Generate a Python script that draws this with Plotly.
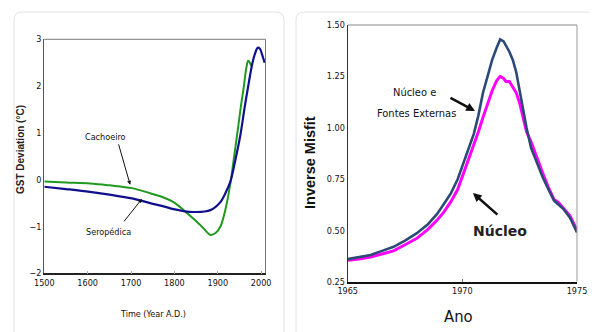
import plotly.graph_objects as go

W, H = 597, 332
OFF = 8  # page body margin offset

# Left panel data (GST deviation)
cach_year = [1500, 1550, 1605, 1650, 1702, 1744, 1775, 1798, 1821, 1840, 1860, 1875, 1883, 1895, 1906, 1918, 1929, 1937, 1945, 1953, 1960, 1966, 1970, 1974, 1977]
cach_val = [-0.04, -0.06, -0.08, -0.12, -0.18, -0.29, -0.38, -0.48, -0.65, -0.80, -0.97, -1.12, -1.18, -1.14, -1.00, -0.62, -0.08, 0.45, 0.99, 1.55, 1.99, 2.40, 2.54, 2.50, 2.43]
ser_year = [1500, 1550, 1605, 1650, 1702, 1744, 1775, 1798, 1821, 1845, 1870, 1883, 1895, 1906, 1918, 1929, 1940, 1952, 1962, 1972, 1980, 1986, 1992, 1997, 2002, 2008]
ser_val = [-0.15, -0.20, -0.26, -0.32, -0.40, -0.50, -0.57, -0.63, -0.67, -0.69, -0.68, -0.65, -0.58, -0.48, -0.28, -0.04, 0.40, 0.95, 1.55, 2.10, 2.50, 2.70, 2.82, 2.80, 2.68, 2.50]

# Right panel data (inverse misfit)
yr = [1965.0, 1965.5, 1966.0, 1966.5, 1967.0, 1967.5, 1968.0, 1968.5, 1968.9, 1969.2, 1969.5, 1969.8, 1970.0, 1970.3, 1970.5, 1970.7, 1970.9, 1971.1, 1971.3, 1971.5, 1971.65, 1971.8, 1971.9, 1972.05, 1972.2, 1972.35, 1972.5, 1972.65, 1972.8, 1973.0, 1973.25, 1973.5, 1973.75, 1974.0, 1974.2, 1974.4, 1974.7, 1975.0]
nucleo_fontes = [0.36, 0.37, 0.38, 0.40, 0.42, 0.45, 0.485, 0.53, 0.58, 0.63, 0.68, 0.75, 0.81, 0.90, 0.97, 1.06, 1.17, 1.25, 1.33, 1.39, 1.43, 1.42, 1.40, 1.37, 1.33, 1.27, 1.18, 1.09, 1.00, 0.90, 0.83, 0.76, 0.70, 0.645, 0.625, 0.605, 0.56, 0.49]
nucleo = [0.355, 0.36, 0.37, 0.385, 0.40, 0.43, 0.46, 0.505, 0.55, 0.59, 0.64, 0.70, 0.76, 0.85, 0.91, 0.98, 1.05, 1.12, 1.18, 1.23, 1.25, 1.24, 1.225, 1.225, 1.20, 1.17, 1.12, 1.05, 0.98, 0.93, 0.85, 0.78, 0.71, 0.65, 0.635, 0.61, 0.57, 0.50]

left_xticks = [1500, 1600, 1700, 1800, 1900, 2000]
left_yticks = [-2, -1, 0, 1, 2, 3]
right_xticks = [1965, 1970, 1975]
right_yticks = [0.25, 0.50, 0.75, 1.00, 1.25, 1.50]

NARROW = "DejaVu Sans Condensed, Liberation Sans Narrow, Liberation Sans"

fig = go.Figure()
fig.add_trace(go.Scatter(x=cach_year, y=cach_val, mode="lines", line=dict(color="#1f9a1f", width=2, shape="spline"), xaxis="x", yaxis="y", showlegend=False))
fig.add_trace(go.Scatter(x=ser_year, y=ser_val, mode="lines", line=dict(color="#10108f", width=2.2, shape="spline"), xaxis="x", yaxis="y", showlegend=False))
fig.add_trace(go.Scatter(x=yr, y=nucleo, mode="lines", line=dict(color="#ff00ff", width=3), xaxis="x2", yaxis="y2", showlegend=False))
fig.add_trace(go.Scatter(x=yr, y=nucleo_fontes, mode="lines", line=dict(color="#2b4a75", width=2.6), xaxis="x2", yaxis="y2", showlegend=False))

def px(v):
    return (v - OFF) / W
def py(v):
    return 1 - (v - OFF) / H

tickf = dict(family=NARROW, size=9, color="#111")
common = dict(showgrid=False, zeroline=False, showline=True, automargin=False)
fig.update_layout(
    width=W, height=H, margin=dict(l=0, r=0, t=0, b=0, pad=0, autoexpand=False),
    paper_bgcolor="white", plot_bgcolor="white",
    xaxis=dict(domain=[px(44.3), px(265.5)], range=[1500, 2010], tickvals=left_xticks,
               linecolor="#222", linewidth=1.5,
               ticks="inside", ticklen=3, tickcolor="#aaa", tickfont=tickf, anchor="y", **common),
    yaxis=dict(domain=[py(273.3), py(39.3)], range=[-2, 3], tickvals=left_yticks,
               linecolor="#555", linewidth=1,
               ticks="", tickfont=tickf, anchor="x", **common),
    xaxis2=dict(domain=[px(347.7), px(577)], range=[1965, 1975], tickvals=right_xticks,
                linecolor="#111", linewidth=1.5,
                ticks="inside", ticklen=3, tickcolor="#777", tickfont=tickf, anchor="y2", **common),
    yaxis2=dict(domain=[py(281.7), py(25)], range=[0.25, 1.5], tickvals=right_yticks,
                tickformat=".2f", linecolor="#333", linewidth=1, ticks="", tickfont=tickf,
                anchor="x2", **common),
)

def rounded(x0, y0, x1, y1, r):
    X0, X1 = px(x0), px(x1)
    Y0, Y1 = py(y0), py(y1)
    rx, ry = r / W, r / H
    return (f"M {X0},{Y1} L {X0},{Y0-ry} Q {X0},{Y0} {X0+rx},{Y0} "
            f"L {X1-rx},{Y0} Q {X1},{Y0} {X1},{Y0-ry} L {X1},{Y1} Z")

shapes = [
    dict(type="path", xref="paper", yref="paper", path=rounded(14, 12, 284, 345, 8), line=dict(color="#e2e2e2", width=1)),
    dict(type="path", xref="paper", yref="paper", path=rounded(296, 12, 594, 345, 8), line=dict(color="#e2e2e2", width=1)),
    dict(type="line", xref="x domain", yref="y domain", x0=0, x1=1, y0=1, y1=1, line=dict(color="#777", width=1)),
    dict(type="line", xref="x domain", yref="y domain", x0=1, x1=1, y0=0, y1=1, line=dict(color="#777", width=1)),
    dict(type="line", xref="x2 domain", yref="y2 domain", x0=0, x1=1, y0=1, y1=1, line=dict(color="#888", width=1)),
    dict(type="line", xref="x2 domain", yref="y2 domain", x0=1, x1=1, y0=0, y1=1, line=dict(color="#999", width=1)),
]
fig.update_layout(shapes=shapes)

C = dict(xanchor="center", yanchor="middle", showarrow=False)
ann = [
    dict(xref="paper", yref="paper", x=px(20), y=py(150), text="<b>GST Deviation (°C)</b>", textangle=-90,
         font=dict(family="Liberation Sans", size=10, color="#222"), **C),
    dict(xref="paper", yref="paper", x=px(153), y=py(314), text="Time (Year A.D.)",
         font=dict(family=NARROW, size=9, color="#111"), **C),
    dict(xref="paper", yref="paper", x=px(310), y=py(163), text="<b>Inverse Misfit</b>", textangle=-90,
         font=dict(family="Liberation Sans", size=14.5, color="#111"), **C),
    dict(xref="paper", yref="paper", x=px(458), y=py(316), text="Ano",
         font=dict(family=NARROW, size=16.5, color="#111"), **C),
    # left panel labels
    dict(xref="x", yref="y", x=1642, y=0.91, text="Cachoeiro",
         font=dict(family=NARROW, size=9, color="#111"), **C),
    dict(xref="x", yref="y", x=1647, y=-1.12, text="Seropédica",
         font=dict(family=NARROW, size=9, color="#111"), **C),
    dict(xref="x", yref="y", x=1698, y=-0.11, ax=-12, ay=-42, text="", showarrow=True,
         arrowhead=2, arrowsize=0.8, arrowwidth=1, arrowcolor="#111"),
    dict(xref="x", yref="y", x=1725, y=-0.41, ax=-19, ay=24, text="", showarrow=True,
         arrowhead=2, arrowsize=0.8, arrowwidth=1, arrowcolor="#111"),
    # right panel labels
    dict(xref="x2", yref="y2", x=1967.93, y=1.169, text="Núcleo e",
         font=dict(family=NARROW, size=11, color="#111"), **C),
    dict(xref="x2", yref="y2", x=1967.98, y=1.071, text="Fontes Externas",
         font=dict(family=NARROW, size=11, color="#111"), **C),
    dict(xref="x2", yref="y2", x=1971.64, y=0.497, text="<b>Núcleo</b>",
         font=dict(family="DejaVu Sans", size=14, color="#222"), **C),
    dict(xref="x2", yref="y2", x=1970.55, y=1.081, ax=-26, ay=-14, text="", showarrow=True,
         arrowhead=2, arrowsize=0.7, arrowwidth=2.5, arrowcolor="#111"),
    dict(xref="x2", yref="y2", x=1970.46, y=0.682, ax=26, ay=23, text="", showarrow=True,
         arrowhead=2, arrowsize=0.7, arrowwidth=2.5, arrowcolor="#111"),
]
fig.update_layout(annotations=ann)

fig.write_html("out.html")
